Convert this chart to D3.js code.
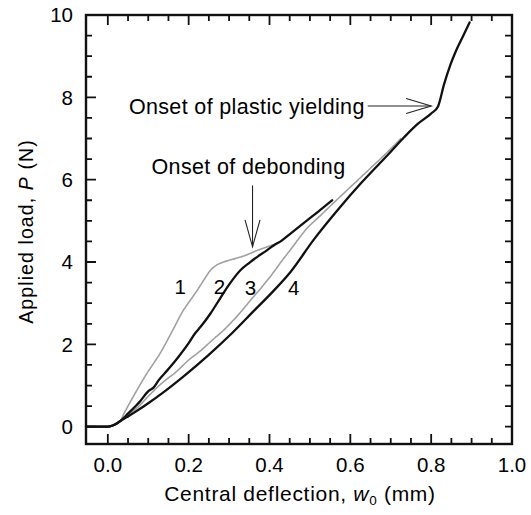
<!DOCTYPE html>
<html>
<head>
<meta charset="utf-8">
<script src="https://cdn.jsdelivr.net/npm/d3@7"></script>
<style>
  html, body { margin: 0; padding: 0; background: #fff; }
  svg { display: block; font-family: "Liberation Sans", Arial, Helvetica, sans-serif; }
</style>
</head>
<body>
<svg id="chart" width="531" height="515"></svg>
<script>
// ---------- data ----------
const curve1 = [[-0.054,0],[0,0],[0.012,0.03],[0.03,0.13],[0.039,0.3],[0.06,0.68],[0.092,1.22],[0.134,1.86],[0.163,2.39],[0.187,2.83],[0.204,3.07],[0.221,3.31],[0.24,3.6],[0.254,3.8],[0.27,3.93],[0.287,4.0],[0.31,4.07],[0.328,4.12],[0.35,4.2],[0.369,4.28],[0.395,4.37],[0.419,4.46],[0.432,4.52]];
const curve2 = [[-0.054,0],[0,0],[0.012,0.03],[0.03,0.13],[0.051,0.33],[0.08,0.62],[0.101,0.87],[0.113,0.95],[0.125,1.12],[0.15,1.4],[0.175,1.7],[0.2,2.03],[0.216,2.27],[0.229,2.42],[0.254,2.75],[0.278,3.12],[0.3,3.45],[0.328,3.8],[0.35,3.98],[0.369,4.12],[0.39,4.26],[0.41,4.4],[0.43,4.52],[0.452,4.69],[0.493,5.01],[0.52,5.22],[0.555,5.5]];
const curve3 = [[-0.054,0],[0,0],[0.012,0.03],[0.03,0.13],[0.05,0.3],[0.076,0.49],[0.1,0.74],[0.134,1.06],[0.17,1.34],[0.2,1.62],[0.23,1.85],[0.258,2.1],[0.285,2.33],[0.311,2.59],[0.33,2.8],[0.353,3.07],[0.38,3.38],[0.41,3.75],[0.43,4.02],[0.452,4.3],[0.493,4.82],[0.525,5.12],[0.56,5.45],[0.6,5.82],[0.65,6.28],[0.7,6.75],[0.725,7.0]];
const curve4 = [[-0.054,0],[0,0],[0.012,0.03],[0.03,0.13],[0.05,0.25],[0.076,0.41],[0.1,0.57],[0.134,0.81],[0.192,1.26],[0.249,1.74],[0.307,2.27],[0.36,2.8],[0.41,3.3],[0.452,3.76],[0.51,4.55],[0.576,5.35],[0.625,5.9],[0.7,6.68],[0.733,7.03],[0.766,7.35],[0.799,7.6],[0.817,7.78],[0.832,8.32],[0.848,8.8],[0.861,9.12],[0.877,9.45],[0.895,9.82]];

const curveNames = ["1","2","3","4"];
const curveLabelPos = [[0.179,3.4],[0.276,3.4],[0.353,3.38],[0.46,3.37]];

const xMajor = [0,0.2,0.4,0.6,0.8,1.0];
const xTickLabels = ["0.0","0.2","0.4","0.6","0.8","1.0"];
const yMajor = [0,2,4,6,8,10];
const yTickLabels = ["0","2","4","6","8","10"];
const xMinorStep = 0.05;
const yMinorStep = 0.5;

const plasticArrow = {tail:[0.643,7.79], tip:[0.8,7.79]};
const debondArrow = {tail:[0.358,5.86], tip:[0.358,4.37]};

// ---------- layout ----------
const svg = d3.select("#chart");
const L = 86, R = 512, T = 15, B = 444;
const x = d3.scaleLinear().domain([-0.054, 1.0]).range([L, R]);
const y = d3.scaleLinear().domain([-0.42, 10]).range([B, T]);

const xMinor = d3.range(1, 20).map(i => +(i*xMinorStep).toFixed(2)).filter(v => !xMajor.includes(v));
const yMinor = d3.range(1, 20).map(i => i*yMinorStep).filter(v => !yMajor.includes(v));

// frame
svg.append("rect").attr("x", L).attr("y", T).attr("width", R - L).attr("height", B - T)
  .attr("fill", "none").attr("stroke", "#111").attr("stroke-width", 2.4);

// ticks (inward on all four sides), one path
const MAJ = 10, MIN = 6, RLEN = 7;
let dTicks = "";
xMajor.forEach(v => { const px = x(v); dTicks += `M${px},${B}V${B-MAJ}M${px},${T}V${T+MAJ}`; });
xMinor.forEach(v => { const px = x(v); dTicks += `M${px},${B}V${B-MIN}M${px},${T}V${T+MIN}`; });
yMajor.forEach(v => { const py = y(v); dTicks += `M${L},${py}H${L+MAJ}M${R},${py}H${R-RLEN}`; });
yMinor.forEach(v => { const py = y(v); dTicks += `M${L},${py}H${L+MIN}M${R},${py}H${R-RLEN}`; });
svg.append("path").attr("d", dTicks).attr("fill", "none")
  .attr("stroke", "#111").attr("stroke-width", 1.8);

// tick labels
svg.append("g").selectAll("text").data(xMajor).join("text")
  .attr("x", d => x(d)).attr("y", B + 27.5).attr("text-anchor", "middle")
  .attr("font-size", 20.5).attr("fill", "#000").text((d,i) => xTickLabels[i]);
svg.append("g").selectAll("text").data(yMajor).join("text")
  .attr("x", L - 13).attr("y", d => y(d)).attr("dy", "0.36em").attr("text-anchor", "end")
  .attr("font-size", 20.5).attr("fill", "#000").text((d,i) => yTickLabels[i]);

// curves
const line = d3.line().x(d => x(d[0])).y(d => y(d[1])).curve(d3.curveMonotoneX);
const grayStyle = {stroke: "#a0a0a0", width: 1.6, dash: "2.2,0.8"};
const blackStyle = {stroke: "#111", width: 2.3, dash: null};
const curves = [
  {data: curve1, s: grayStyle},
  {data: curve3, s: grayStyle},
  {data: curve4, s: blackStyle},
  {data: curve2, s: blackStyle}
];
curves.forEach(c => {
  svg.append("path").datum(c.data).attr("d", line)
    .attr("fill", "none").attr("stroke", c.s.stroke).attr("stroke-width", c.s.width)
    .attr("stroke-linejoin", "round").attr("stroke-linecap", "round")
    .attr("stroke-dasharray", c.s.dash);
});

// curve number labels
svg.append("g").selectAll("text").data(curveNames).join("text")
  .attr("x", (d,i) => x(curveLabelPos[i][0]))
  .attr("y", (d,i) => y(curveLabelPos[i][1]))
  .attr("dy", "0.36em").attr("text-anchor", "middle")
  .attr("font-size", 20.5).attr("fill", "#000").text(d => d);

// annotations
function arrow(a, horizontal) {
  const x1 = x(a.tail[0]), y1 = y(a.tail[1]), x2 = x(a.tip[0]), y2 = y(a.tip[1]);
  const g = svg.append("g").attr("stroke", "#222").attr("stroke-width", 1.1).attr("fill", "none");
  g.append("line").attr("x1", x1).attr("y1", y1).attr("x2", x2).attr("y2", y2);
  if (horizontal) {
    g.append("path").attr("d", `M${x2-25},${y2-7.5}L${x2},${y2}L${x2-25},${y2+7.5}`);
  } else {
    g.append("path").attr("d", `M${x2-7.5},${y2-27}L${x2},${y2}L${x2+7.5},${y2-27}`);
  }
}
arrow(plasticArrow, true);
arrow(debondArrow, false);

svg.append("text")
  .attr("x", x(plasticArrow.tail[0]) - 3).attr("y", y(plasticArrow.tip[1]) + 8)
  .attr("text-anchor", "end").attr("font-size", 21.5).attr("letter-spacing", "0.35px")
  .attr("fill", "#000").text("Onset of plastic yielding");
svg.append("text")
  .attr("x", x(debondArrow.tail[0]) - 4).attr("y", y(debondArrow.tail[1]) - 11)
  .attr("text-anchor", "middle").attr("font-size", 21.5).attr("letter-spacing", "0.35px")
  .attr("fill", "#000").text("Onset of debonding");

// axis titles
const xt = svg.append("text").attr("x", (L + R) / 2 + 1).attr("y", 501)
  .attr("text-anchor", "middle").attr("font-size", 21).attr("letter-spacing", "0.7px")
  .attr("fill", "#000");
xt.append("tspan").text("Central deflection, ");
xt.append("tspan").attr("font-style", "italic").text("w");
xt.append("tspan").attr("font-size", 13.5).attr("dy", 4).text("0");
xt.append("tspan").attr("dy", -4).text(" (mm)");

const yt = svg.append("text").attr("transform", `translate(33,${(T + B) / 2 + 2}) rotate(-90)`)
  .attr("text-anchor", "middle").attr("font-size", 19.5).attr("letter-spacing", "1.1px")
  .attr("fill", "#000");
yt.append("tspan").text("Applied load, ");
yt.append("tspan").attr("font-style", "italic").text("P");
yt.append("tspan").text(" (N)");
</script>
</body>
</html>
